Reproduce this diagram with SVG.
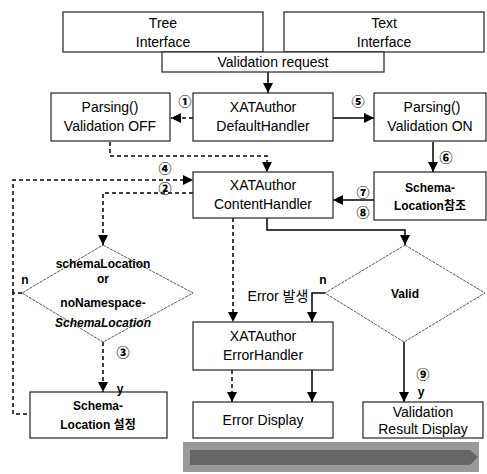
<svg xmlns="http://www.w3.org/2000/svg" width="487" height="474" viewBox="0 0 487 474">
<style>
.box{fill:#fff;stroke:#222;stroke-width:1.2}
.dia{fill:#fff;stroke:#444;stroke-width:0.9;stroke-dasharray:3,1}
.t{font-family:"Liberation Sans","Noto Sans CJK KR",sans-serif;font-size:14px;fill:#000;text-anchor:middle}
.b{font-family:"Liberation Sans","Noto Sans CJK KR",sans-serif;font-size:12px;font-weight:bold;fill:#000;text-anchor:middle}
.n{font-family:"Noto Sans CJK KR","DejaVu Sans",sans-serif;font-size:13px;font-weight:900;fill:#000;text-anchor:middle}
.s{fill:none;stroke:#000;stroke-width:1.5}
.d{fill:none;stroke:#000;stroke-width:1.5;stroke-dasharray:4,3}
</style>
<defs>
<marker id="ah" viewBox="0 0 10 10" refX="10" refY="5" markerWidth="10" markerHeight="10" markerUnits="userSpaceOnUse" orient="auto">
<path d="M0,0L10,5L0,10z" fill="#000"/>
</marker>
</defs>

<g id="connectors">
<path class="s" d="M268,72V93" marker-end="url(#ah)"/>
<path class="d" d="M193,118H171" marker-end="url(#ah)"/>
<path class="s" d="M333,118H374" marker-end="url(#ah)"/>
<path class="d" d="M110,142V156H267V172" marker-end="url(#ah)"/>
<path class="s" d="M433,142V172" marker-end="url(#ah)"/>
<path class="s" d="M374,200H333" marker-end="url(#ah)"/>
<path class="d" d="M13,293V180H193" marker-end="url(#ah)"/>
<path class="d" d="M193,193H103V245" marker-end="url(#ah)"/>
<path class="d" d="M22,293H13V414H30"/>
<path class="d" d="M103,342V392" marker-end="url(#ah)"/>
<path class="s" d="M267,218V230H405V245" marker-end="url(#ah)"/>
<path class="d" d="M233,218V322" marker-end="url(#ah)"/>
<path class="s" d="M325,293H312V322" marker-end="url(#ah)"/>
<path class="d" d="M232,370V402" marker-end="url(#ah)"/>
<path class="s" d="M312,370V402" marker-end="url(#ah)"/>
<path class="s" d="M404,342V402" marker-end="url(#ah)"/>
</g>

<g id="tree-interface">
<rect class="box" x="63" y="12" width="200" height="40"/>
<text class="t" x="163" y="28">Tree</text>
<text class="t" x="163" y="47">Interface</text>
</g>
<g id="text-interface">
<rect class="box" x="284" y="12" width="200" height="40"/>
<text class="t" x="384" y="28">Text</text>
<text class="t" x="384" y="47">Interface</text>
</g>
<g id="validation-request">
<rect class="box" x="162" y="52" width="222" height="20"/>
<text class="t" x="273" y="67">Validation request</text>
</g>
<g id="parsing-off">
<rect class="box" x="51" y="93" width="119" height="48"/>
<text class="t" x="110" y="112">Parsing()</text>
<text class="t" x="110" y="131">Validation OFF</text>
</g>
<g id="default-handler">
<rect class="box" x="193" y="93" width="140" height="48"/>
<text class="t" x="263" y="112">XATAuthor</text>
<text class="t" x="263" y="131">DefaultHandler</text>
</g>
<g id="parsing-on">
<rect class="box" x="374" y="93" width="112" height="48"/>
<text class="t" x="432" y="112">Parsing()</text>
<text class="t" x="430" y="131">Validation ON</text>
</g>
<g id="content-handler">
<rect class="box" x="193" y="172" width="140" height="46"/>
<text class="t" x="263" y="190">XATAuthor</text>
<text class="t" x="263" y="209">ContentHandler</text>
</g>
<g id="schema-ref">
<rect class="box" x="374" y="172" width="112" height="48"/>
<text class="b" x="430" y="192">Schema-</text>
<text class="b" x="430" y="210">Location참조</text>
</g>
<g id="schema-decision">
<polygon class="dia" points="103,245 193,293 103,342 22,293"/>
<text class="b" x="103" y="268">schemaLocation</text>
<text class="b" x="103" y="283">or</text>
<text class="b" x="103" y="307">noNamespace-</text>
<text class="b" x="103" y="327" font-style="italic">SchemaLocation</text>
</g>
<g id="valid-decision">
<polygon class="dia" points="405,245 485,293 404,342 325,293"/>
<text class="b" x="405" y="298">Valid</text>
</g>
<g id="error-handler">
<rect class="box" x="193" y="322" width="140" height="48"/>
<text class="t" x="263" y="341">XATAuthor</text>
<text class="t" x="263" y="360">ErrorHandler</text>
</g>
<g id="schema-set">
<rect class="box" x="30" y="392" width="137" height="46"/>
<text class="b" x="98" y="410">Schema-</text>
<text class="b" x="98" y="429">Location 설정</text>
</g>
<g id="error-display">
<rect class="box" x="193" y="402" width="140" height="36"/>
<text class="t" x="263" y="425">Error Display</text>
</g>
<g id="result-display">
<rect class="box" x="363" y="402" width="120" height="36"/>
<text class="t" x="423" y="417">Validation</text>
<text class="t" x="423" y="434">Result Display</text>
</g>

<g id="labels">
<text class="n" x="185" y="106">①</text>
<text class="n" x="358" y="106">⑤</text>
<text class="n" x="446" y="162">⑥</text>
<text class="n" x="165" y="173">④</text>
<text class="n" x="165" y="193">②</text>
<text class="n" x="363" y="197">⑦</text>
<text class="n" x="363" y="217">⑧</text>
<text class="n" x="123" y="357">③</text>
<text class="n" x="423" y="379" font-size="12">⑨</text>
<text class="b" x="25" y="284">n</text>
<text class="b" x="323" y="284">n</text>
<text class="b" x="120" y="393">y</text>
<text class="b" x="421" y="396">y</text>
<text class="t" x="278" y="301" font-size="13">Error 발생</text>
</g>

<g id="footer">
<rect x="183" y="442" width="296" height="30" fill="#9a9a9a"/>
<path d="M190,450H470L478,457L470,465H190z" fill="#3a3a3a" opacity="0.55"/>
</g>
</svg>
